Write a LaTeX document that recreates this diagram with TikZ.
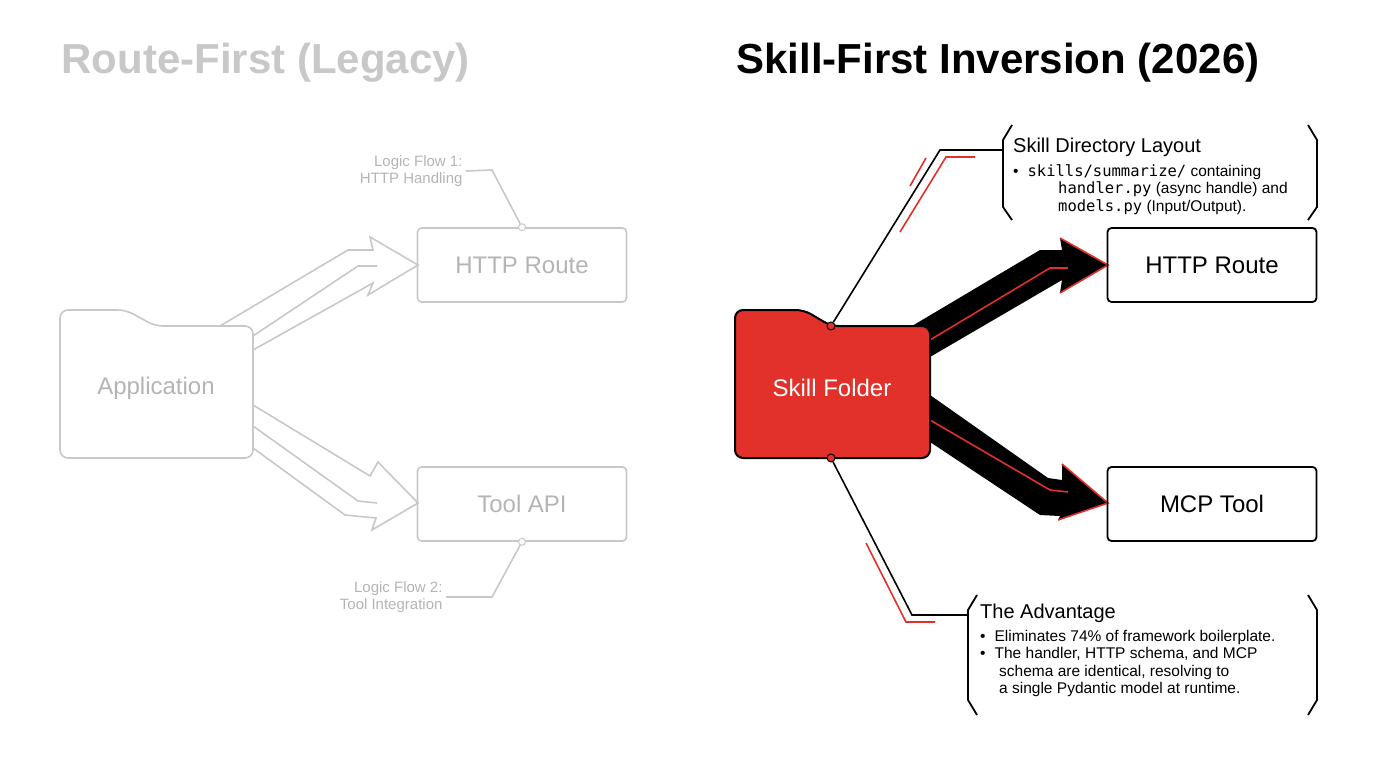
\documentclass[tikz,border=0pt]{standalone}
\usepackage{fontspec}
\setmainfont{Liberation Sans}
\setmonofont{DejaVu Sans Mono}
\definecolor{ghost}{HTML}{C8C8C8}
\definecolor{ghosttext}{HTML}{B4B4B4}
\definecolor{skillred}{HTML}{E2312A}
\tikzset{
  oldbox/.style={draw=ghost,line width=1.6pt,rounded corners=4pt,minimum width=209pt,minimum height=74pt,font=\fontsize{24}{28}\selectfont,text=ghosttext},
  newbox/.style={draw=black,line width=1.8pt,rounded corners=4pt,minimum width=209pt,minimum height=74pt,font=\fontsize{24}{28}\selectfont},
  oldnote/.style={font=\fontsize{15}{17}\selectfont,text=ghosttext,align=right,anchor=east},
  dot/.style={circle,draw,line width=1pt,inner sep=0pt,minimum size=8pt}
}
\begin{document}
\begin{tikzpicture}[x=1pt,y=-1pt]
\useasboundingbox (0,0) rectangle (1376,768);

% titles
\node[anchor=west,font=\bfseries\fontsize{42}{46}\selectfont,text=ghost] (oldtitle) at (58,63) {Route-First (Legacy)};
\node[anchor=west,font=\bfseries\fontsize{42}{46}\selectfont] (newtitle) at (733,63) {Skill-First Inversion (2026)};

% ---- legacy side
\begin{scope}[draw=ghost,line width=1.6pt]
\draw[rounded corners=8pt] (60,458) -- (60,310) -- (126,310) -- (155,326) -- (253,326) -- (253,458) -- cycle;
\node (app) at (156,388) {\fontsize{24}{28}\selectfont\color{ghosttext}Application};

\draw (220,326) -- (348,250) -- (373,250) -- (370,237) -- (418,265) -- (368,295) -- (373,283) -- (253,350);
\draw (253,336) -- (358,266) -- (377,266);
\draw (253,405) -- (370,476) -- (378,462) -- (418,503) -- (372,530) -- (376,518) -- (345,515) -- (253,448);
\draw (253,426) -- (358,501) -- (377,503);
\end{scope}

\node[oldbox] (http0) at (522,265) {HTTP Route};
\node[oldbox] (tool0) at (522,504) {Tool API};
\node[dot,draw=ghost,fill=white,minimum size=7pt] (d1) at (http0.north) {};
\node[dot,draw=ghost,fill=white,minimum size=7pt] (d2) at (tool0.south) {};
\node[oldnote] (n1) at (466,171) {Logic Flow 1:\\HTTP Handling};
\node[oldnote] (n2) at (446,597) {Logic Flow 2:\\Tool Integration};
\draw[ghost,line width=1.6pt] (d1) -- (492,170) -- (n1.east);
\draw[ghost,line width=1.6pt] (d2) -- (492,597) -- (n2.east);

% ---- skill side
\fill (912,326) -- (1040,250) -- (1062,250) -- (1060,238) -- (1108,265) -- (1060,293) -- (1062,280) -- (930,357) -- cycle;
\fill (930,395) -- (1048,478) -- (1062,480) -- (1062,464) -- (1108,503) -- (1058,520) -- (1060,516) -- (1040,515) -- (930,442) -- cycle;
\draw[skillred,line width=1.6pt] (930,340) -- (1050,268) -- (1068,268);
\draw[skillred,line width=1.6pt] (930,420) -- (1050,490) -- (1068,492);
\draw[skillred,line width=1.6pt] (1060,238) -- (1108,265) -- (1060,293);
\draw[skillred,line width=1.6pt] (1062,464) -- (1108,503) -- (1058,520);

\filldraw[fill=skillred,draw=black,line width=2pt,rounded corners=8pt] (735,458) -- (735,310) -- (804,310) -- (831,326) -- (930,326) -- (930,458) -- cycle;
\node[text=white,font=\fontsize{24}{28}\selectfont] (skill) at (832,388) {Skill Folder};
\node[dot,fill=skillred] (s1) at (831,326) {};
\node[dot,fill=skillred] (s2) at (831,458) {};

\node[newbox] (http) at (1212,265) {HTTP Route};
\node[newbox] (mcp) at (1212,504) {MCP Tool};

% callout brackets
\coordinate (b1) at (1003,150);
\draw[line width=1.8pt] (1012,125) -- (1003,140) -- (1003,207) -- (1012,220);
\draw[line width=1.8pt] (1308,125) -- (1317,140) -- (1317,207) -- (1308,220);
\node[anchor=north west,inner sep=0pt,font=\fontsize{20}{22}\selectfont] (layout) at (1013,138) {Skill Directory Layout};
\node[anchor=north west,inner sep=0pt,align=left,font=\fontsize{15.5}{17.5}\selectfont] (layouttxt) at (1013,164)
  {\textbullet\hspace{9pt}\texttt{skills/summarize/} containing\\
   \hspace{45pt}\texttt{handler.py} (async handle) and\\
   \hspace{45pt}\texttt{models.py} (Input/Output).};

\coordinate (b2) at (968,615);
\draw[line width=1.8pt] (977,595) -- (968,610) -- (968,700) -- (977,715);
\draw[line width=1.8pt] (1308,595) -- (1317,610) -- (1317,700) -- (1308,715);
\node[anchor=north west,inner sep=0pt,font=\fontsize{20}{22}\selectfont] (adv) at (980,604) {The Advantage};
\node[anchor=north west,inner sep=0pt,align=left,font=\fontsize{15.5}{17.5}\selectfont] (advtxt) at (980,630)
  {\textbullet\hspace{9pt}Eliminates 74\% of framework boilerplate.\\
   \textbullet\hspace{9pt}The handler, HTTP schema, and MCP\\
   \hspace{19pt}schema are identical, resolving to\\
   \hspace{19pt}a single Pydantic model at runtime.};

\draw[line width=1.6pt] (s1) -- (940,150) -- (b1);
\draw[line width=1.6pt] (s2) -- (912,615) -- (b2);
\draw[skillred,line width=1.6pt] (910,186) -- (926,158);
\draw[skillred,line width=1.6pt] (900,232) -- (946,157) -- (975,157);
\draw[skillred,line width=1.6pt] (866,543) -- (906,622) -- (935,622);
\end{tikzpicture}
\end{document}
